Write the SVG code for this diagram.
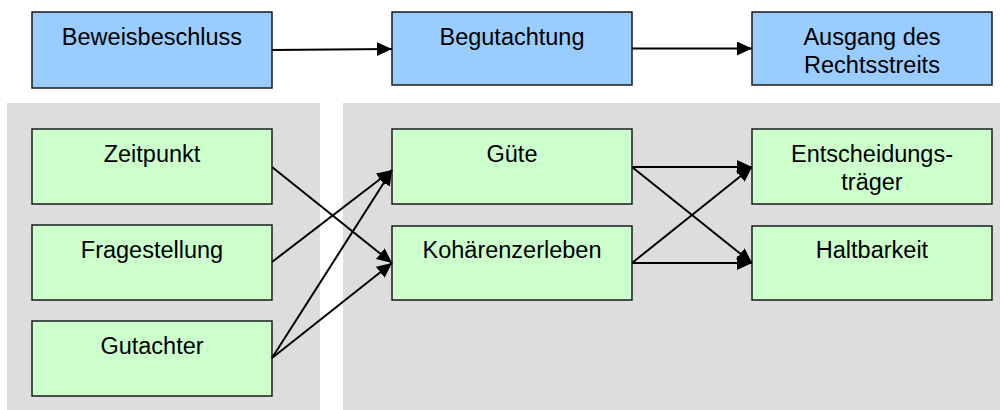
<svg xmlns="http://www.w3.org/2000/svg" width="1000" height="410" viewBox="0 0 1000 410">
<style>
.panel{fill:#dddddd;stroke:none}
.blue{fill:#99ccff;stroke:#1a1a1a;stroke-width:1.5}
.green{fill:#ccffcc;stroke:#1a1a1a;stroke-width:1.5}
text{font-family:"Liberation Sans",Arial,sans-serif;font-size:23.5px;fill:#000;text-anchor:middle}
.conn line{stroke:#000;stroke-width:2;marker-end:url(#arr)}
</style>
<defs>
<marker id="arr" markerUnits="userSpaceOnUse" markerWidth="16" markerHeight="16" refX="15" refY="7" orient="auto">
<path d="M0,0 L15,7 L0,14 z" fill="#000"/>
</marker>
</defs>
<rect width="1000" height="410" fill="#ffffff"/>
<rect class="panel" x="7" y="103" width="313" height="307"/>
<rect class="panel" x="343" y="103" width="657" height="307"/>

<g id="beweisbeschluss"><rect class="blue" x="32" y="12" width="240" height="76"/><text x="152" y="45">Beweisbeschluss</text></g>
<g id="begutachtung"><rect class="blue" x="392" y="12" width="240" height="73"/><text x="512" y="45">Begutachtung</text></g>
<g id="ausgang"><rect class="blue" x="752" y="12" width="240" height="73"/><text x="872" y="45">Ausgang des</text><text x="872" y="72.6">Rechtsstreits</text></g>

<g id="zeitpunkt"><rect class="green" x="32" y="129" width="240" height="75"/><text x="152" y="162">Zeitpunkt</text></g>
<g id="fragestellung"><rect class="green" x="32" y="225" width="240" height="75"/><text x="152" y="258">Fragestellung</text></g>
<g id="gutachter"><rect class="green" x="32" y="321" width="240" height="75"/><text x="152" y="354">Gutachter</text></g>

<g id="guete"><rect class="green" x="392" y="129" width="240" height="75"/><text x="512" y="162">Güte</text></g>
<g id="kohaerenzerleben"><rect class="green" x="392" y="226" width="240" height="74"/><text x="512" y="258">Kohärenzerleben</text></g>

<g id="entscheidungstraeger"><rect class="green" x="752" y="129" width="240" height="75"/><text x="872" y="162">Entscheidungs-</text><text x="872" y="189.5">träger</text></g>
<g id="haltbarkeit"><rect class="green" x="752" y="226" width="240" height="74"/><text x="872" y="258">Haltbarkeit</text></g>

<g id="connectors" class="conn">
<line x1="272" y1="50" x2="392" y2="49"/>
<line x1="632" y1="48.5" x2="752" y2="48.5"/>
<line x1="272" y1="167" x2="392" y2="263"/>
<line x1="272" y1="262" x2="392" y2="170"/>
<line x1="272" y1="358" x2="392" y2="170"/>
<line x1="272" y1="358" x2="392" y2="263"/>
<line x1="632" y1="167" x2="752" y2="167"/>
<line x1="632" y1="167" x2="752" y2="263"/>
<line x1="632" y1="263" x2="752" y2="167"/>
<line x1="632" y1="263" x2="752" y2="263"/>
</g>
</svg>
